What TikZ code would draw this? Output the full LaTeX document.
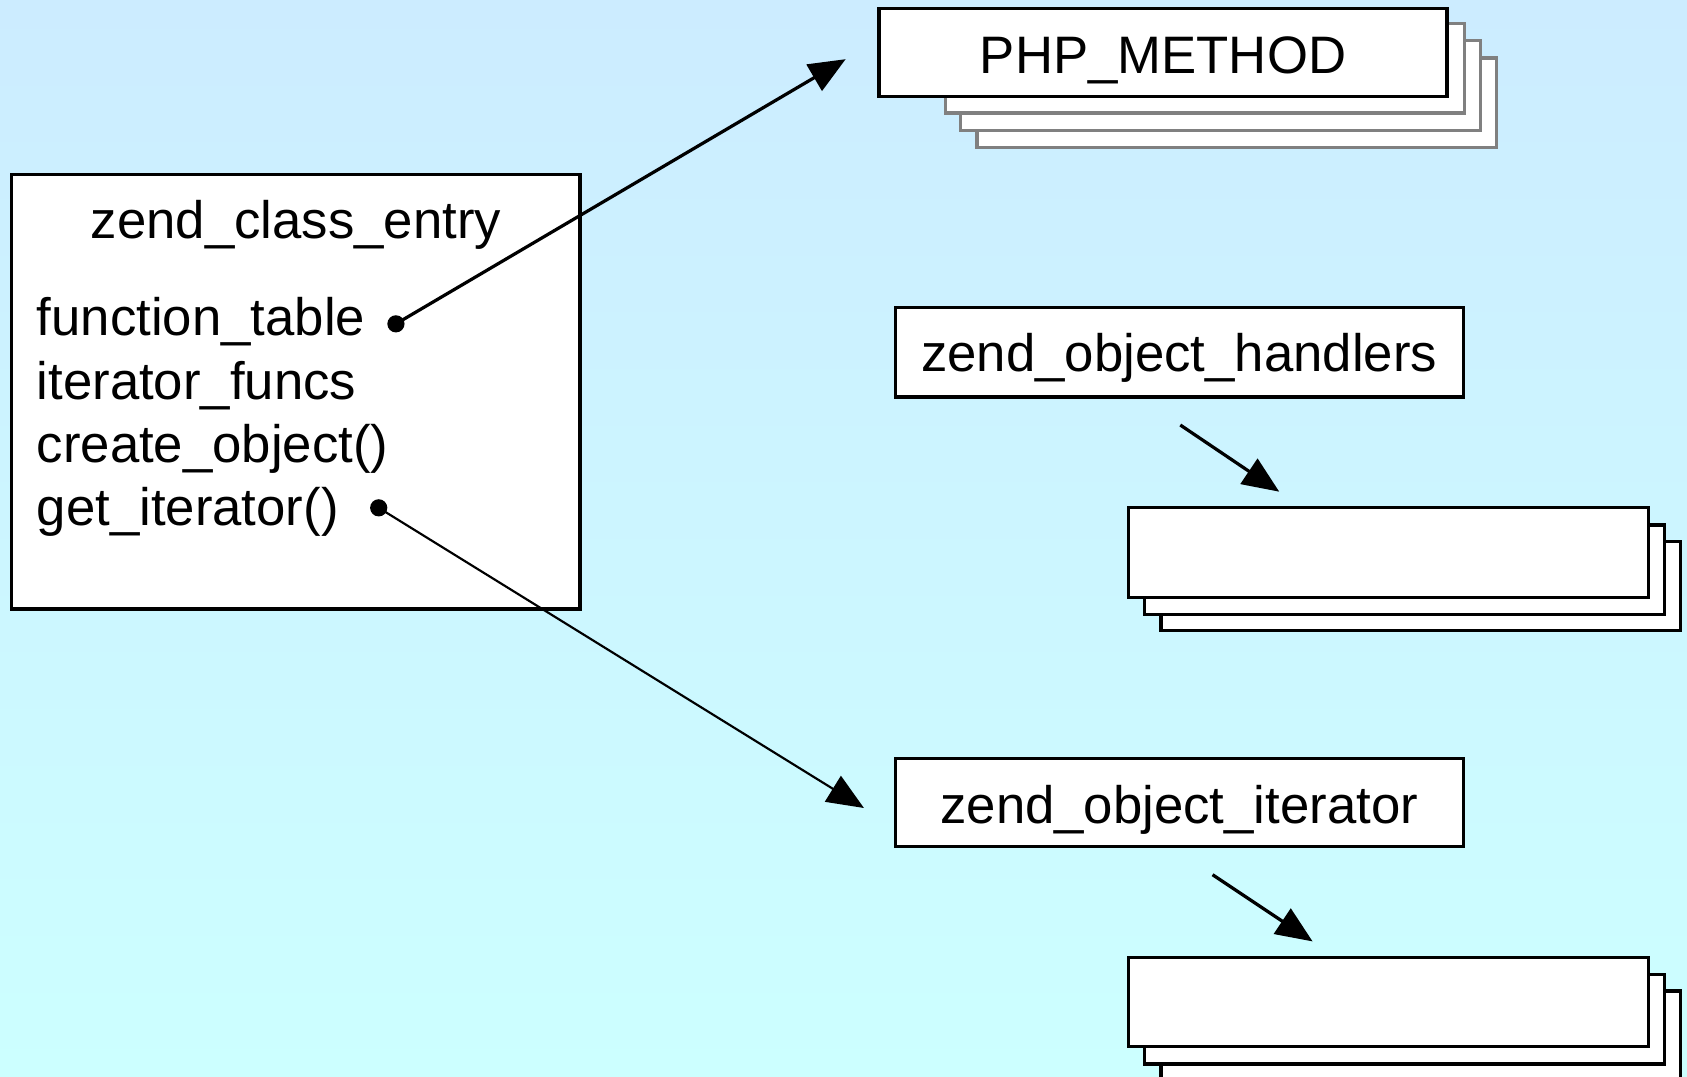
\documentclass[tikz,border=0pt]{standalone}
\usepackage{fontspec}
\setmainfont{Liberation Sans}
\usetikzlibrary{arrows.meta}
\definecolor{bgtop}{RGB}{204,236,255}
\definecolor{bgbot}{RGB}{204,255,255}
\definecolor{stackgray}{RGB}{128,128,128}
\begin{document}
\begin{tikzpicture}[x=1pt,y=-1pt,
  box/.style={draw=black,line width=3pt,fill=white,anchor=north west,inner sep=0pt,outer sep=0pt},
  graybox/.style={box,draw=stackgray},
  lbl/.style={inner sep=0pt,anchor=base,font=\fontsize{49}{59}\selectfont},
  lblw/.style={lbl,anchor=base west},
  ptr/.style={line width=3pt,-{Triangle[length=34pt,width=28pt]}},
  ptrthin/.style={line width=2pt,-{Triangle[length=34pt,width=28pt]}},
  dot/.style={circle,fill=black,inner sep=0pt,minimum size=16pt}]
\useasboundingbox (0,0) rectangle (1568,1001);
\shade[top color=bgtop,bottom color=bgbot] (0,0) rectangle (1568,1001);

% PHP_METHOD stack
\node[graybox,minimum width=483pt,minimum height=83pt] (pg3) at (908,54) {};
\node[graybox,minimum width=483pt,minimum height=83pt] (pg2) at (893,38) {};
\node[graybox,minimum width=482pt,minimum height=83pt] (pg1) at (879,22) {};
\node[box,minimum width=528pt,minimum height=82pt] (php) at (817,8) {};
\node[lbl] (phpt) at (1081,68) {PHP\_METHOD};

% zend_object_handlers
\node[box,minimum width=528pt,minimum height=83pt] (hnd) at (832,286) {};
\node[lbl] (hndt) at (1096,345) {zend\_object\_handlers};
\node[box,minimum width=483pt,minimum height=83pt] (ha3) at (1079,503) {};
\node[box,minimum width=483pt,minimum height=83pt] (ha2) at (1064,488) {};
\node[box,minimum width=483pt,minimum height=83pt] (ha1) at (1049,472) {};

% zend_object_iterator
\node[box,minimum width=528pt,minimum height=82pt] (itr) at (832,705) {};
\node[lbl] (itrt) at (1096,765) {zend\_object\_iterator};
\node[box,minimum width=483pt,minimum height=83pt] (ib3) at (1079,921) {};
\node[box,minimum width=483pt,minimum height=83pt] (ib2) at (1064,906) {};
\node[box,minimum width=483pt,minimum height=83pt] (ib1) at (1049,890) {};

% zend_class_entry
\node[box,minimum width=528pt,minimum height=404pt] (cls) at (11,162) {};
\node[lbl] (clst) at (275,222) {zend\_class\_entry};
\node[lblw] (f1) at (34,312) {function\_table};
\node[lblw] (f2) at (34,371) {iterator\_funcs};
\node[lblw] (f3) at (34,430) {create\_object()};
\node[lblw] (f4) at (34,488) {get\_iterator()};

\node[dot] (d1) at (368,301) {};
\node[dot] (d2) at (352,472) {};

\coordinate (t1) at (786,55);
\coordinate (t2) at (803,751);
\draw[ptr] (d1.center) -- (t1);
\draw[ptrthin] (d2.center) -- (t2);

\coordinate (s1) at (1097,395);
\coordinate (e1) at (1189,457);
\coordinate (s2) at (1127,813);
\coordinate (e2) at (1220,875);
\draw[ptr] (s1) -- (e1);
\draw[ptr] (s2) -- (e2);
\end{tikzpicture}
\end{document}
